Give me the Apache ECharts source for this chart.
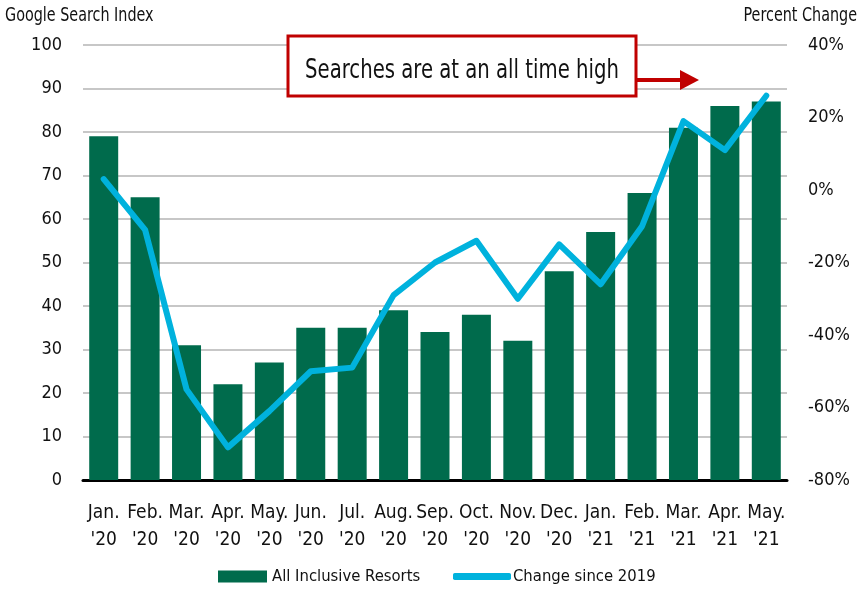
<!DOCTYPE html>
<html>
<head>
<meta charset="utf-8">
<script src="https://cdn.jsdelivr.net/npm/echarts@6/dist/echarts.min.js"></script>
<style>
  html, body { margin: 0; padding: 0; background: #fff; }
  #chart { width: 860px; height: 594px; }
</style>
</head>
<body>
<div id="chart"></div>
<script>
const months = ["Jan.\n'20", "Feb.\n'20", "Mar.\n'20", "Apr.\n'20", "May.\n'20", "Jun.\n'20", "Jul.\n'20", "Aug.\n'20",
  "Sep.\n'20", "Oct.\n'20", "Nov.\n'20", "Dec.\n'20", "Jan.\n'21", "Feb.\n'21", "Mar.\n'21", "Apr.\n'21", "May.\n'21"]
const searchIndex = [79, 65, 31, 22, 27, 35, 35, 39, 34, 38, 32, 48, 57, 66, 81, 86, 87]
const changeSince2019 = [3, -11, -55, -71, -61, -50, -49, -29, -20, -14, -30, -15, -26, -10, 19, 11, 26]

const font = '"DejaVu Sans Condensed", "DejaVu Sans", sans-serif'
const chart = echarts.init(document.getElementById('chart'))

const option = {
  animation: false,
  textStyle: { fontFamily: font },
  grid: { left: 83, right: 73, top: 45, bottom: 114 },
  legend: [
    {
      left: 213,
      bottom: 4,
      itemWidth: 49,
      itemHeight: 12,
      textStyle: { fontFamily: font, fontSize: 16.5, color: '#111' },
      data: [{ name: 'All Inclusive Resorts', icon: 'rect' }]
    },
    {
      left: 448,
      bottom: 4,
      itemWidth: 58,
      itemHeight: 7,
      textStyle: { fontFamily: font, fontSize: 16.5, color: '#111', padding: [0, 0, 0, -3] },
      data: [{ name: 'Change since 2019', icon: 'roundRect' }]
    }
  ],
  xAxis: {
    type: 'category',
    data: months,
    axisTick: { show: false },
    axisLine: { lineStyle: { color: '#000', width: 3 } },
    axisLabel: { fontFamily: font, fontSize: 19, color: '#111', lineHeight: 27, margin: 20, interval: 0 }
  },
  yAxis: [
    {
      type: 'value',
      min: 0,
      max: 100,
      interval: 10,
      axisLine: { show: false },
      axisTick: { show: false },
      splitLine: { lineStyle: { color: '#b4b4b4', width: 1.5 } },
      axisLabel: { fontFamily: font, fontSize: 18, color: '#111', margin: 21 }
    },
    {
      type: 'value',
      min: -80,
      max: 40,
      interval: 20,
      position: 'right',
      axisLine: { show: false },
      axisTick: { show: false },
      splitLine: { show: false },
      axisLabel: { fontFamily: font, fontSize: 18, color: '#111', margin: 21, formatter: '{value}%' }
    }
  ],
  series: [
    {
      name: 'All Inclusive Resorts',
      type: 'bar',
      data: searchIndex,
      barWidth: '70%',
      itemStyle: { color: '#006B4C' }
    },
    {
      name: 'Change since 2019',
      type: 'line',
      yAxisIndex: 1,
      data: changeSince2019,
      symbol: 'none',
      lineStyle: { color: '#00B2DD', width: 6, cap: 'round', join: 'round' },
      itemStyle: { color: '#00B2DD' }
    }
  ],
  graphic: [
    {
      type: 'text',
      x: 5,
      y: 16,
      scaleX: 0.84,
      style: { text: 'Google Search Index', fontFamily: font, fontSize: 19, fill: '#111', verticalAlign: 'middle' }
    },
    {
      type: 'text',
      x: 857,
      y: 16,
      scaleX: 0.84,
      style: { text: 'Percent Change', fontFamily: font, fontSize: 19, fill: '#111', align: 'right', verticalAlign: 'middle' }
    },
    {
      type: 'rect',
      shape: { x: 288, y: 36, width: 348, height: 60 },
      style: { fill: '#fff', stroke: '#C00000', lineWidth: 3 },
      z: 100
    },
    {
      type: 'text',
      x: 462,
      y: 71,
      scaleX: 0.81,
      style: { text: 'Searches are at an all time high', fontFamily: font, fontSize: 27, fill: '#111', align: 'center', verticalAlign: 'middle' },
      z: 101
    },
    {
      type: 'line',
      shape: { x1: 637, y1: 80, x2: 682, y2: 80 },
      style: { stroke: '#C00000', lineWidth: 4 },
      z: 100
    },
    {
      type: 'polygon',
      shape: { points: [[680, 70], [699, 80], [680, 90]] },
      style: { fill: '#C00000' },
      z: 100
    }
  ]
}

chart.setOption(option)
</script>
</body>
</html>
